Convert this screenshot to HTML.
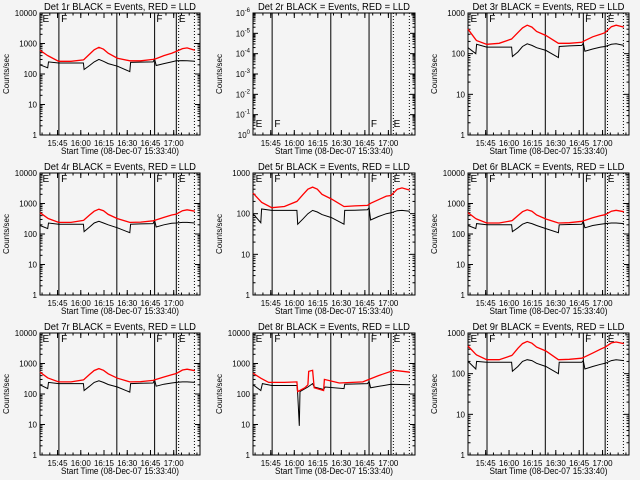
<!DOCTYPE html>
<html><head><meta charset="utf-8"><style>
html,body{margin:0;padding:0;background:#f4f4f4;}
svg{display:block;font-family:"Liberation Sans",sans-serif;}
</style></head><body>
<svg id="c" width="640" height="480" viewBox="0 0 640 480"></svg>
<script>
// shared time knots (minutes after 15:33:40)
const knots=[0,5,5.5,12,20,28,28.5,32,35,38,41,44,50,58,58.5,65,73,74,75,80,85,88,92,95,100];
const red1=[600,400,390,260,260,290,300,450,620,750,650,480,330,270,270,270,300,310,320,400,480,550,680,720,600];
const blk1=[200,160,250,230,230,230,140,190,250,300,260,220,180,120,240,245,250,310,190,220,250,270,275,270,260];
const red3=[400,220,210,170,180,230,240,330,430,500,450,350,280,180,180,180,190,200,210,260,300,330,460,500,450];
const blk3=[140,100,170,145,145,145,85,110,150,175,160,140,120,80,150,155,160,180,115,130,145,150,170,175,160];
const red4=[500,330,320,240,240,280,290,420,560,650,580,440,320,240,240,245,270,280,290,350,420,450,580,620,560];
const blk4=[190,150,230,210,210,210,120,170,230,260,230,200,160,110,210,215,220,280,170,200,225,230,240,240,230];
const red5=[320,200,190,140,150,200,210,300,400,450,400,300,230,150,150,155,160,170,180,220,270,280,400,430,380];
const blk5=[100,60,130,120,120,120,55,75,100,120,110,95,80,55,120,122,125,140,70,85,100,105,118,120,115];
const red6=[500,320,310,230,230,270,280,400,540,620,560,420,310,230,230,235,260,270,280,340,400,430,560,600,540];
const blk6=[190,150,220,200,200,200,120,160,210,240,220,190,150,110,200,205,210,260,160,190,210,220,230,230,220];
const red7=[520,340,330,250,250,290,300,440,590,680,600,460,330,250,250,255,280,290,300,360,430,470,610,650,580];
const blk7=[200,150,240,220,220,220,130,180,240,270,240,205,170,115,220,225,230,290,180,210,230,240,250,250,240];
const red9=[480,300,290,220,220,280,290,420,550,620,560,450,360,220,220,225,240,250,260,320,400,450,570,600,550];
const blk9=[200,130,200,190,190,190,115,150,200,220,210,180,150,100,190,190,190,210,130,150,170,180,210,220,210];
const t8r=[0,5,10,20,28,28.5,33,35,35.5,38,39,45,45.5,55,70,80,90,100];
const red8=[480,330,240,240,250,120,160,200,550,600,160,130,300,230,250,400,600,520];
const t8b=[0,5,6,12,28,28.5,29.5,30,35,38,39,45,46,58,58.5,73,74,75,88,100];
const blk8=[200,130,220,190,190,100,9,120,170,220,170,140,170,150,210,220,260,160,210,200];
const xTickLabels=["15:45","16:00","16:15","16:30","16:45","17:00"];
const xTickMin=[11.33,26.33,41.33,56.33,71.33,86.33];
const solidLines=[12.2,49.6,74,88];
const dottedLines=[89.5,99.7];
const letters=[["E",1],["F",13],["F",74.5],["E",89]];
const panels=[
 {n:1,top:4,r:[knots,red1],b:[knots,blk1]},
 {n:2,top:-6,r:null,b:null,neg:true},
 {n:3,top:3,r:[knots,red3],b:[knots,blk3]},
 {n:4,top:4,r:[knots,red4],b:[knots,blk4]},
 {n:5,top:3,r:[knots,red5],b:[knots,blk5]},
 {n:6,top:4,r:[knots,red6],b:[knots,blk6]},
 {n:7,top:4,r:[knots,red7],b:[knots,blk7]},
 {n:8,top:4,r:[t8r,red8],b:[t8b,blk8]},
 {n:9,top:3,r:[knots,red9],b:[knots,blk9]}
];
const colX=[[40,200],[253,415],[468,629]];
const svg=document.getElementById('c');
const NS='http://www.w3.org/2000/svg';
function mk(tag,at,parent){const e=document.createElementNS(NS,tag);for(const k in at)e.setAttribute(k,at[k]);(parent||svg).appendChild(e);return e;}
panels.forEach((p,i)=>{
 const col=i%3,row=Math.floor(i/3);
 const x0=colX[col][0],x1=colX[col][1],y0=13+row*160,y1=135+row*160;
 const g=mk('g',{});
 
 
 const xs=m=>x0+(x1-x0)*m/103.3;
 let ys;
 if(p.neg){ys=v=>y0+(y1-y0)*(v-(-6))/6;}
 else{ys=v=>y1-(y1-y0)*Math.log10(Math.max(v,1))/p.top;}
 const fr=mk('rect',{x:x0,y:y0,width:x1-x0,height:y1-y0,fill:'none',stroke:'#000','stroke-width':1},g);
 
 
 const tt=mk('text',{x:(x0+x1)/2,y:y0-3,'text-anchor':'middle','font-size':10,fill:'#000',textLength:152,lengthAdjust:'spacingAndGlyphs'},g);
 tt.textContent='Det '+p.n+'r BLACK = Events, RED = LLD';
 
 
 const yl=mk('text',{x:0,y:0,'text-anchor':'middle','font-size':8,fill:'#000',transform:`translate(${x0-31},${(y0+y1)/2}) rotate(-90)`},g);
 yl.textContent='Counts/sec';
 
 
 const xl=mk('text',{x:(x0+x1)/2,y:y1+19,'text-anchor':'middle','font-size':9,fill:'#000',textLength:118,lengthAdjust:'spacingAndGlyphs'},g);
 xl.textContent='Start Time (08-Dec-07 15:33:40)';
 
 
 xTickMin.forEach((m,k)=>{
  const x=xs(m);
  mk('line',{x1:x,x2:x,y1:y1,y2:y1-5,stroke:'#000'},g);mk('line',{x1:x,x2:x,y1:y0,y2:y0+5,stroke:'#000'},g);
  const tl=mk('text',{x:x,y:y1+11,'text-anchor':'middle','font-size':8,fill:'#000'},g);
  tl.textContent=xTickLabels[k];
  
  
 });
 for(let m=1.33;m<103;m+=5){const x=xs(m);mk('line',{x1:x,x2:x,y1:y1,y2:y1-2.5,stroke:'#000'},g);mk('line',{x1:x,x2:x,y1:y0,y2:y0+2.5,stroke:'#000'},g);}
 if(p.neg){
  for(let e=-6;e<=0;e++){
   const y=ys(e);
   mk('line',{x1:x0,x2:x0+5,y1:y,y2:y,stroke:'#000'},g);mk('line',{x1:x1,x2:x1-5,y1:y,y2:y,stroke:'#000'},g);
   const tl=mk('text',{x:x0-3,y:y+3,'text-anchor':'end','font-size':8,fill:'#000'},g);
   tl.innerHTML='10<tspan dy="-4" font-size="6">'+(e===0?'0':e)+'</tspan>';
   
   
   if(e<0)for(let k=2;k<10;k++){const yy=y+(y1-y0)/6*(1-Math.log10(k));mk('line',{x1:x0,x2:x0+2.5,y1:yy,y2:yy,stroke:'#000'},g);mk('line',{x1:x1,x2:x1-2.5,y1:yy,y2:yy,stroke:'#000'},g);}
  }
 } else {
  for(let e=0;e<=p.top;e++){
   const y=ys(Math.pow(10,e));
   mk('line',{x1:x0,x2:x0+5,y1:y,y2:y,stroke:'#000'},g);mk('line',{x1:x1,x2:x1-5,y1:y,y2:y,stroke:'#000'},g);
   const tl=mk('text',{x:x0-3,y:y+3,'text-anchor':'end','font-size':8,fill:'#000'},g);
   tl.textContent=String(Math.pow(10,e));
   
   
   if(e<p.top)for(let k=2;k<10;k++){const yy=ys(k*Math.pow(10,e));mk('line',{x1:x0,x2:x0+2.5,y1:yy,y2:yy,stroke:'#000'},g);mk('line',{x1:x1,x2:x1-2.5,y1:yy,y2:yy,stroke:'#000'},g);}
  }
 }
 solidLines.forEach(m=>{const l=mk('line',{x1:xs(m),x2:xs(m),y1:y0,y2:y1,stroke:'#000','stroke-width':1},g);
  });
 dottedLines.forEach(m=>{const l=mk('line',{x1:xs(m),x2:xs(m),y1:y0,y2:y1,stroke:'#000','stroke-width':1,'stroke-dasharray':'1,2'},g);
  });
 letters.forEach(([c,m])=>{const ly=p.neg?y1-8:y0+9;
  const t=mk('text',{x:xs(m)+1,y:ly,'font-size':10,fill:'#000'},g);t.textContent=c;
  });
 function series(d,color,name){
  if(!d)return;
  const pts=d[0].map((m,k)=>xs(m).toFixed(1)+','+ys(d[1][k]).toFixed(1)).join(' ');
  const pl=mk('polyline',{points:pts,fill:'none',stroke:color,'stroke-width':color==='#000'?1:1.3},g);
  
  
 }
 series(p.b,'#000','events-series');
 series(p.r,'#ff0000','lld-series');
});
</script>
</body></html>
